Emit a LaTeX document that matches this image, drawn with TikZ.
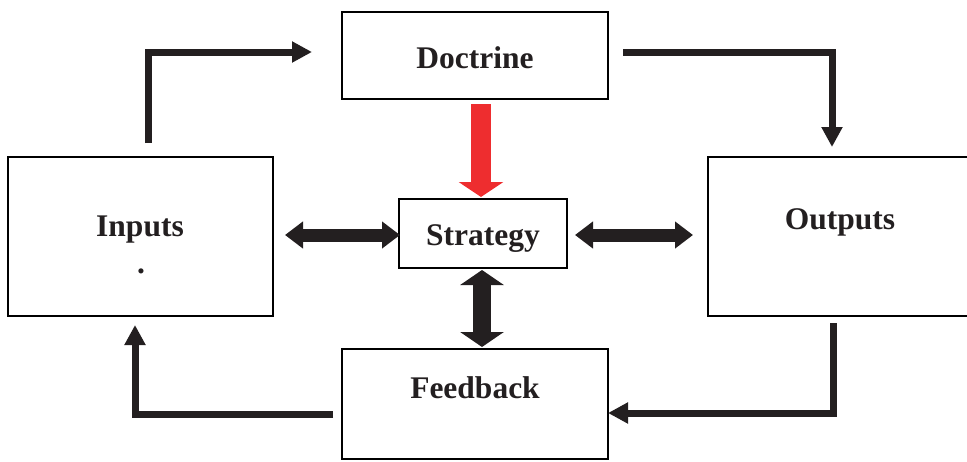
\documentclass[tikz,border=0pt]{standalone}
\usepackage{fontspec}
\setmainfont{Liberation Serif}
\usetikzlibrary{arrows.meta,calc}
\definecolor{ink}{HTML}{231F20}
\definecolor{alarm}{HTML}{EE2D2F}
\begin{document}
\begin{tikzpicture}[x=1pt,y=-1pt,
  box/.style={draw=black, line width=2.2pt, fill=white, anchor=north west,
              inner sep=0pt, outer sep=0pt},
  lbl/.style={anchor=base, inner sep=0pt, text=ink,
              font=\fontsize{31.5}{36}\selectfont\bfseries},
  elbow/.style={draw=ink, line width=7pt, line join=miter,
                -{Triangle[length=20pt,width=20pt]}},
  dbl/.style={draw=ink, line width=13pt,
              {Triangle[length=18pt,width=26pt]}-{Triangle[length=18pt,width=26pt]}},
  vdbl/.style={draw=ink, line width=18pt,
               {Triangle[length=15pt,width=43pt]}-{Triangle[length=15pt,width=43pt]}},
  redarrow/.style={draw=alarm, line width=20pt,
                   -{Triangle[length=15pt,width=44pt]}}]
\useasboundingbox (0,0) rectangle (967,461);
\clip (0,0) rectangle (967,461);

% boxes
\node[box, minimum width=266pt, minimum height=87pt]  (doctrine) at (342,12)  {};
\node[box, minimum width=265pt, minimum height=159pt] (inputs)   at (8,157)   {};
\node[box, minimum width=300pt, minimum height=159pt] (outputs)  at (708,157) {};
\node[box, minimum width=168pt, minimum height=69pt]  (strategy) at (399,199) {};
\node[box, minimum width=266pt, minimum height=110pt] (feedback) at (342,349) {};

% labels
\node[lbl] (doctrineText) at (475,68)  {Doctrine};
\node[lbl] (inputsText)   at (140,236) {Inputs};
\node[lbl] (inputsDot)    at (141,273) {.};
\node[lbl] (outputsText)  at (840,229) {Outputs};
\node[lbl] (strategyText) at (483,245) {Strategy};
\node[lbl] (feedbackText) at (475,398) {Feedback};

% outer loop
\coordinate (inTail)  at (148,143);
\coordinate (docTail) at (623,52);
\coordinate (outTail) at (833,323);
\coordinate (fbTail)  at (333,414);
\draw[elbow] (inTail)  |- ($(doctrine.west)+(-30,-3.5)$);
\draw[elbow] (docTail) -| ($(outputs.north west)+(124,-10)$);
\draw[elbow] (outTail) |- ($(feedback.east)+(0,9)$);
\draw[elbow] (fbTail)  -| ($(inputs.south west)+(127,9)$);

% links with the strategy
\draw[redarrow] ($(doctrine.south)+(6,5)$) -- ($(doctrine.south |- strategy.north)+(6,-2)$);
\draw[dbl] ($(inputs.east)+(12,-1.5)$) -- ($(strategy.west)+(1,1.5)$);
\draw[dbl] ($(strategy.east)+(8,1.5)$) -- ($(outputs.west)+(-15,-1.5)$);
\draw[vdbl] ($(strategy.south)+(-1,2)$) -- ($(strategy.south |- feedback.north)+(-1,-2)$);
\end{tikzpicture}
\end{document}
